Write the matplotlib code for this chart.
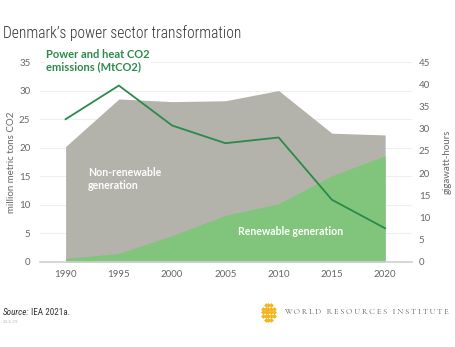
import matplotlib
matplotlib.use("Agg")
import matplotlib.pyplot as plt
from matplotlib import font_manager
import numpy as np

years = [1990, 1995, 2000, 2005, 2010, 2015, 2020]
co2_emissions = [25.0, 30.9, 23.9, 20.8, 21.8, 10.9, 5.9]       # MtCO2, left axis
total_generation = [26.0, 36.7, 36.1, 36.3, 38.6, 29.0, 28.6]   # GWh, right axis
renewable_generation = [0.8, 1.9, 5.9, 10.5, 13.1, 19.4, 23.9]  # GWh, right axis

left_ticks = [0, 5, 10, 15, 20, 25, 30, 35]
right_ticks = [0, 5, 10, 15, 20, 25, 30, 35, 40, 45]


def first_font(candidates, default):
    available = {f.name for f in font_manager.fontManager.ttflist}
    for c in candidates:
        if c in available:
            return c
    return default


narrow = first_font(["Roboto Condensed", "Liberation Sans Narrow", "Archivo Narrow",
                     "PT Sans Narrow", "Barlow Condensed", "Open Sans Condensed"], "Roboto")
body = first_font(["Lato"], "DejaVu Sans")
serif = first_font(["Cormorant Garamond", "EB Garamond", "Libre Baskerville"], "DejaVu Serif")

GRAY_FILL = "#b3b2ab"
GREEN_FILL = "#80c57b"
LINE_GREEN = "#2b8a4b"
TICK_GRAY = "#666666"

fig = plt.figure(figsize=(4.55, 3.47), dpi=100)
ax = fig.add_axes([0.088, 0.245, 0.817, 0.576])
ax2 = ax.twinx()

# areas live on the right (GWh) axis, the line on the left
ax2.fill_between(years, 0, total_generation, color=GRAY_FILL, lw=0, zorder=1)
ax2.fill_between(years, 0, renewable_generation, color=GREEN_FILL, lw=0, zorder=2)
ax2.set_ylim(0, 45)
ax2.set_yticks(right_ticks)

ax.set_zorder(ax2.get_zorder() + 1)
ax.patch.set_visible(False)
ax.plot(years, co2_emissions, color=LINE_GREEN, lw=1.3, zorder=5)
ax.set_ylim(0, 35)
ax.set_yticks(left_ticks)
ax.set_xlim(1987.6, 2022.5)
ax.set_xticks(years)

# grid drawn on the back axis so it sits under the areas
for t in left_ticks[1:]:
    ax2.axhline(t * 45 / 35, color="#efefef", lw=0.8, zorder=0)

for a in (ax, ax2):
    for s in a.spines.values():
        s.set_visible(False)
    a.tick_params(length=0, labelsize=7, labelcolor=TICK_GRAY)
    for lab in a.get_xticklabels() + a.get_yticklabels():
        lab.set_family(body)
ax2.spines["bottom"].set_visible(True)
ax2.spines["bottom"].set_color("#d0d0d0")
ax2.spines["bottom"].set_linewidth(1.2)
ax.tick_params(axis="x", pad=6)
ax.tick_params(axis="y", pad=7)
ax2.tick_params(axis="y", pad=5)

ax.set_ylabel("million metric tons CO2", fontsize=7, color=TICK_GRAY, family=body, labelpad=2)
ax2.set_ylabel("gigawatt-hours", fontsize=7, color=TICK_GRAY, family=body, rotation=90, labelpad=9)

ax.text(1988.2, 35.3, "Power and heat CO2\nemissions (MtCO2)", fontsize=8, fontweight="bold",
        color=LINE_GREEN, family=body, va="center", ha="left", linespacing=1.1,
        bbox=dict(facecolor="white", edgecolor="none", pad=1))
ax.text(1992.1, 14.6, "Non-renewable\ngeneration", fontsize=7.6, fontweight="bold",
        color="white", family=body, va="center", ha="left", linespacing=1.2)
ax.text(2011.1, 5.3, "Renewable generation", fontsize=7.6, fontweight="bold",
        color="white", family=body, va="center", ha="center")

renderer = fig.canvas.get_renderer()
title = fig.text(0.007, 0.905, "Denmark\u2019s power sector transformation", fontsize=12,
                 fontweight="light", color="#333333", family=narrow, va="center", ha="left")
tw = title.get_window_extent(renderer).width
title.set_fontsize(12 * min(1.0, 239 / tw))

src = fig.text(0.007, 0.1, "Source:", fontsize=6.6, style="italic", color="#333333",
               family=narrow, va="center", ha="left")
src_end = src.get_window_extent(renderer).x1 / fig.bbox.width
fig.text(src_end + 0.002, 0.1, "IEA 2021a.", fontsize=6.6, color="#333333",
         family=narrow, va="center", ha="left")
fig.text(0.007, 0.072, "23.6.29", fontsize=3, color="#bbbbbb", va="center", ha="left")

# WRI logo: small cluster of yellow diamonds plus spaced serif name
logo = fig.add_axes([0.573, 0.07, 0.034, 0.06])
logo.axis("off")
gx, gy = np.meshgrid(np.arange(-2, 3), np.arange(-2, 3))
keep = (np.abs(gx) + np.abs(gy)) <= 3
logo.scatter(gx[keep], gy[keep], marker="D", s=6, color="#f2b51d", lw=0)
logo.set_xlim(-2.8, 2.8)
logo.set_ylim(-2.8, 2.8)
wri = fig.text(284 / 455, 0.1, "W O R L D   R E S O U R C E S   I N S T I T U T E", fontsize=6,
               color="#333333", family=serif, va="center", ha="left")
w = wri.get_window_extent(renderer).width
wri.set_fontsize(6 * 168 / w)

fig.savefig("out.png", dpi=100)
